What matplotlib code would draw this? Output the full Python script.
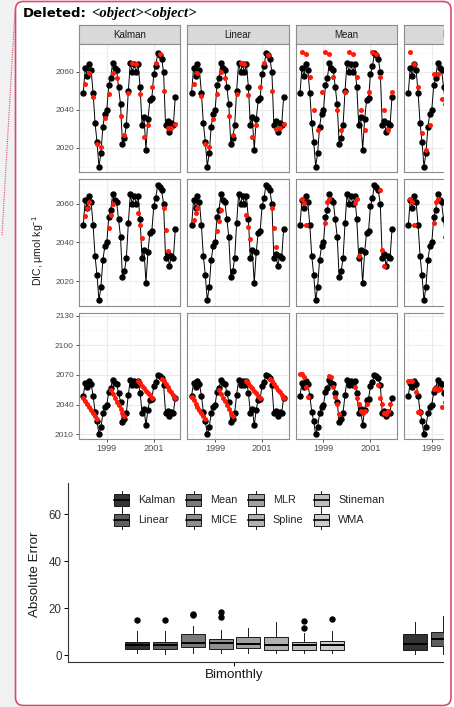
import matplotlib
matplotlib.use("Agg")
import matplotlib.pyplot as plt
from matplotlib.patches import Rectangle, FancyBboxPatch, Patch
from matplotlib.lines import Line2D
from matplotlib.legend_handler import HandlerBase

plt.rcParams["font.family"] = ["Liberation Sans", "DejaVu Sans"]
plt.rcParams["mathtext.fontset"] = "custom"
plt.rcParams["mathtext.rm"] = "Liberation Sans"
plt.rcParams["mathtext.it"] = "Liberation Sans:italic"

W, H = 454, 707

# ---- data ---------------------------------------------------------------
months = [1998 + i / 12 for i in range(48)]
dic_obs = [2049, 2062, 2058, 2064, 2061, 2049, 2033, 2023, 2010, 2017,
           2031, 2038, 2040, 2053, 2057, 2065, 2062, 2061, 2052, 2043,
           2022, 2025, 2032, 2050, 2065, 2060, 2064, 2060, 2064, 2052,
           2032, 2036, 2019, 2035, 2045, 2046, 2059, 2063, 2070, 2069,
           2067, 2060, 2032, 2034, 2028, 2033, 2032, 2047]

methods = ["Kalman", "Linear", "Mean", "MICE", "MLR", "Spline", "Stineman", "WMA"]
fills = ["#333333", "#5e5e5e", "#7a7a7a", "#8f8f8f",
         "#a1a1a1", "#b1b1b1", "#bfbfbf", "#cccccc"]

# row 1: every second month removed
bim_idx = [1, 3, 5, 7, 9, 11, 13, 15, 17, 19, 21, 23,
           25, 27, 29, 31, 33, 35, 37, 39, 41, 43, 45, 47]
bim_kalman = [2053.7, 2059.6, 2047.0, 2022.0, 2020.5, 2035.5, 2048.5, 2059.6,
              2057.0, 2036.7, 2026.7, 2048.7, 2064.9, 2064.2, 2048.2, 2025.8,
              2032.0, 2051.9, 2064.6, 2069.4, 2050.0, 2030.2, 2030.5, 2032.5]
bim_linear = [2053.5, 2059.5, 2047.5, 2022.0, 2020.5, 2035.0, 2048.5, 2059.8,
              2057.0, 2036.5, 2026.5, 2048.5, 2064.7, 2064.0, 2048.0, 2025.5,
              2032.0, 2052.0, 2064.5, 2069.0, 2050.0, 2030.0, 2030.5, 2032.5]
bim_mean = [2070.7, 2069.4, 2057.5, 2039.9, 2029.3, 2049.6,
            2070.7, 2069.4, 2057.5, 2039.9, 2029.3, 2049.6,
            2070.7, 2069.4, 2057.5, 2039.9, 2029.3, 2049.6,
            2070.7, 2069.4, 2057.5, 2039.9, 2029.3, 2049.6]
bim_mice_idx = [1, 3, 5, 7, 9, 11, 13, 15, 17, 19]
bim_mice = [2070.7, 2064.2, 2051.9, 2027.6, 2018.7, 2032.0,
            2058.8, 2058.8, 2045.6, 2033.3]

# row 2: random three-month blocks removed
rnd_idx = [1, 2, 3, 13, 14, 15, 28, 29, 30, 41, 42, 43]
rnd_kalman = [2053.8, 2057.9, 2060.9, 2047.7, 2054.3, 2059.8,
              2055.5, 2049.1, 2042.2, 2057.8, 2046.5, 2035.8]
rnd_linear = [2051.7, 2055.2, 2057.8, 2046.0, 2051.3, 2056.9,
              2054.3, 2047.9, 2041.8, 2057.8, 2047.7, 2037.9]
rnd_mean = [2062.4, 2060.7, 2049.1, 2050.3, 2061.2, 2062.4,
            2060.7, 2062.4, 2033.0, 2067.3, 2036.1, 2028.0]
rnd_mice_idx = [1, 2, 3, 13, 14, 15]
rnd_mice = [2062.4, 2061.0, 2049.1, 2050.3, 2061.2, 2062.4]

# row 3: long gaps removed
gap_idx = [0, 1, 2, 3, 4, 5, 6, 7, 14, 15, 16, 17, 18, 19, 20, 21,
           28, 29, 30, 31, 32, 33, 34, 35, 40, 41, 42, 43, 44, 45, 46, 47]
gap_kalman = [2047, 2044, 2041, 2038, 2035, 2031, 2028, 2025,
              2055, 2051, 2047, 2043, 2040, 2036, 2032, 2028,
              2064, 2062, 2059, 2057, 2054, 2052, 2050, 2047,
              2066, 2064, 2061, 2058, 2055, 2053, 2050, 2047]
gap_linear = [2048, 2045, 2041, 2038, 2035, 2031, 2028, 2025,
              2055, 2051, 2047, 2044, 2040, 2036, 2032, 2028,
              2064, 2062, 2059, 2057, 2054, 2052, 2049, 2047,
              2066, 2064, 2061, 2058, 2055, 2053, 2050, 2047]
gap_mean_idx = [0, 1, 2, 3, 4, 15, 16, 17, 18, 19, 20,
                28, 29, 30, 31, 32, 33, 34, 40, 41, 42, 43, 44, 45, 46]
gap_mean = [2070.8, 2070.8, 2068.4, 2058.2, 2047.5,
            2069.4, 2068.4, 2058.2, 2048.1, 2040.7, 2030.6,
            2058, 2047, 2041, 2034, 2031, 2034, 2041,
            2060, 2047, 2041, 2031, 2030, 2034, 2041]
gap_mice_idx = [0, 1, 2, 4, 5, 6, 13, 14, 15, 16, 17]
gap_mice = [2064, 2064, 2064, 2053, 2033, 2033, 2056, 2057, 2055, 2056, 2038]

# absolute error boxplot statistics (Bimonthly, then next scenario)
bim_lo = [0.7, 0.5, 0.7, 0.7, 0.9, 0.7, 0.7, 0.7]
bim_q1 = [2.4, 2.4, 3.6, 2.4, 2.8, 2.1, 2.0, 2.1]
bim_med = [4.3, 4.1, 5.2, 5.0, 4.8, 4.4, 4.4, 4.3]
bim_q3 = [5.7, 5.7, 8.9, 6.8, 7.7, 7.8, 5.5, 5.8]
bim_hi = [10.3, 10.3, 12.3, 10.6, 11.3, 14.2, 9.2, 10.3]
bim_out = [[14.8], [14.8], [16.9, 17.6], [16.2, 18.4], [], [], [11.5, 14.5], [15.5]]
next_lo = [0.3, 0.5]
next_q1 = [2.0, 4.0]
next_med = [4.5, 6.8]
next_q3 = [8.8, 9.9]
next_hi = [14.2, 16.6]

# ---- figure -------------------------------------------------------------
fig = plt.figure(figsize=(W / 100, H / 100), dpi=100)
fig.patch.set_facecolor("white")


def ax_px(x0, y0, x1, y1, **kw):
    return fig.add_axes([x0 / W, 1 - y1 / H, (x1 - x0) / W, (y1 - y0) / H], **kw)


bg = ax_px(0, 0, W, H, zorder=-5)
bg.set_xlim(0, W)
bg.set_ylim(H, 0)
bg.axis("off")
bg.add_patch(Rectangle((0, 0), 22, H, color="#f1f1f1"))
bg.add_patch(FancyBboxPatch((15.5, 1.5), 435.5, 704, boxstyle="round,pad=0,rounding_size=8",
                            fc="white", ec="none"))

# ---- facet grid ---------------------------------------------------------
col_left = [79, 187.3, 295.7, 404]
pw = 101.3
row_tb = [(44, 172), (178.7, 305.7), (312.7, 438.7)]
row_ylim = [(2007.1, 2074.8), (2007.2, 2073.1), (2005.5, 2133)]
row_ticks = [[2020, 2040, 2060], [2020, 2040, 2060], [2010, 2040, 2070, 2100, 2130]]
row_minor = [[2010, 2030, 2050, 2070], [2010, 2030, 2050, 2070], [2025, 2055, 2085, 2115]]

red_pts = [
    [(bim_idx, bim_kalman), (bim_idx, bim_linear), (bim_idx, bim_mean), (bim_mice_idx, bim_mice)],
    [(rnd_idx, rnd_kalman), (rnd_idx, rnd_linear), (rnd_idx, rnd_mean), (rnd_mice_idx, rnd_mice)],
    [(gap_idx, gap_kalman), (gap_idx, gap_linear), (gap_mean_idx, gap_mean), (gap_mice_idx, gap_mice)],
]

border = "#8c8c8c"
for c, x0 in enumerate(col_left):
    st = ax_px(x0, 25, x0 + pw, 44)
    st.set_facecolor("#d9d9d9")
    st.set_xticks([])
    st.set_yticks([])
    for s in st.spines.values():
        s.set_color(border)
        s.set_linewidth(0.8)
    st.text(0.5, 0.47, methods[c], transform=st.transAxes, ha="center", va="center",
            fontsize=7, color="#1a1a1a")

    for r, (y0, y1) in enumerate(row_tb):
        ax = ax_px(x0, y0, x0 + pw, y1)
        idx, vals = red_pts[r][c]
        ax.plot(months, dic_obs, color="black", lw=0.7, marker="o", ms=3.6, zorder=3)
        ax.scatter([months[i] for i in idx], vals, color="#ff1a0a", s=13, lw=0, zorder=4)
        ax.set_xlim(1997.817, 2002.128)
        ax.set_ylim(*row_ylim[r])
        ax.set_xticks([1999, 2001])
        ax.set_xticks([1998, 2000, 2002], minor=True)
        ax.set_yticks(row_ticks[r])
        ax.set_yticks(row_minor[r], minor=True)
        ax.grid(which="major", color="#ebebeb", lw=0.8)
        ax.grid(which="minor", color="#f5f5f5", lw=0.5)
        ax.set_axisbelow(True)
        for s in ax.spines.values():
            s.set_color(border)
            s.set_linewidth(0.8)
        ax.tick_params(which="minor", length=0)
        ax.tick_params(which="major", length=2.2, width=0.6, color="#333333",
                       labelcolor="#4d4d4d", pad=1.5)
        ax.tick_params(axis="y", labelsize=6.0)
        ax.tick_params(axis="x", labelsize=6.6)
        if c != 0:
            ax.tick_params(axis="y", length=0, labelleft=False)
        if r != 2:
            ax.tick_params(axis="x", length=0, labelbottom=False)

# ---- boxplot ------------------------------------------------------------
bx = ax_px(67.7, 483.3, W, 662.3)
bx.set_xlim(0.4, 0.4 + (W - 67.7) / 278)
bx.set_ylim(-3.1, 73.1)
stats = []
pos = []
for k in range(8):
    stats.append(dict(whislo=bim_lo[k], q1=bim_q1[k], med=bim_med[k], q3=bim_q3[k],
                      whishi=bim_hi[k], fliers=bim_out[k]))
    pos.append(1 + (k - 3.5) * 0.1)
for k in range(2):
    stats.append(dict(whislo=next_lo[k], q1=next_q1[k], med=next_med[k], q3=next_q3[k],
                      whishi=next_hi[k], fliers=[]))
    pos.append(2 + (k - 3.5) * 0.1)
bp = bx.bxp(stats, positions=pos, widths=0.087, patch_artist=True, showcaps=False,
            boxprops=dict(edgecolor="#1a1a1a", lw=0.7),
            medianprops=dict(color="black", lw=1.4),
            whiskerprops=dict(color="#1a1a1a", lw=0.7),
            flierprops=dict(marker="o", mfc="black", mec="black", ms=3.6))
for k, b in enumerate(bp["boxes"]):
    b.set_facecolor(fills[k % 8])
bx.set_xticks([1])
bx.set_xticklabels(["Bimonthly"], fontsize=9.6, color="#1a1a1a")
bx.set_yticks([0, 20, 40, 60])
bx.tick_params(axis="y", labelsize=8.3, labelcolor="#333333", length=2.8, width=0.7, pad=1.5)
bx.tick_params(axis="x", length=2.8, width=0.7, pad=2)
bx.spines["top"].set_visible(False)
bx.spines["right"].set_visible(False)
bx.spines["left"].set_color("#333333")
bx.spines["bottom"].set_color("#333333")
bx.spines["left"].set_linewidth(0.8)
bx.spines["bottom"].set_linewidth(0.8)


class BoxKey(HandlerBase):
    def create_artists(self, legend, orig, xd, yd, w, h, fs, trans):
        x0, y0 = -xd, -yd
        bh = h * 0.66
        by = y0 + (h - bh) / 2
        whisk = Line2D([x0 + w / 2] * 2, [y0, y0 + h], color="#1a1a1a", lw=0.7, transform=trans)
        box = Rectangle((x0, by), w, bh, facecolor=orig.get_facecolor(), edgecolor="#1a1a1a",
                        lw=0.7, transform=trans)
        med = Line2D([x0, x0 + w], [y0 + h / 2] * 2, color="black", lw=1.2, transform=trans)
        return [whisk, box, med]


handles = [Patch(facecolor=fills[k], label=m) for k, m in enumerate(methods)]
bx.legend(handles=handles, ncol=4, loc="upper left", bbox_to_anchor=(114 / W, 1 - 491 / H),
          bbox_transform=fig.transFigure, frameon=False, fontsize=7.8, borderpad=0,
          borderaxespad=0, handlelength=1.42, handleheight=2.2, handletextpad=0.83,
          columnspacing=0.97, labelspacing=0.12, labelcolor="#222222",
          handler_map={Patch: BoxKey()})

# ---- overlay: clipping, balloon border, titles --------------------------
fg = ax_px(0, 0, W, H, zorder=10)
fg.set_xlim(0, W)
fg.set_ylim(H, 0)
fg.axis("off")
fg.patch.set_visible(False)
fg.add_patch(Rectangle((443.5, 0), W - 443.5, H, color="white", lw=0))
red = "#d64d6b"
fg.add_patch(FancyBboxPatch((15.5, 1.5), 435.5, 704, boxstyle="round,pad=0,rounding_size=8",
                            fc="none", ec=red, lw=1.2))
fg.plot([15, 2], [10, 236], color=red, ls=(0, (1, 1)), lw=0.8)
fg.text(23, 17, "Deleted:", fontsize=9.5, fontweight="bold", family="DejaVu Sans",
        color="black", va="baseline")
fg.text(91.5, 17, "<object><object>", fontsize=10.5, fontweight="bold", style="italic",
        family="Liberation Serif", color="black", va="baseline")
fg.text(38, 250, r"DIC, μmol kg$^{-1}$", rotation=90, ha="center", va="center",
        fontsize=7.6, color="#1a1a1a")
fg.text(35, 574, "Absolute Error", rotation=90, ha="center", va="center",
        fontsize=9.6, color="#1a1a1a")

fig.savefig("out.png", dpi=100)
